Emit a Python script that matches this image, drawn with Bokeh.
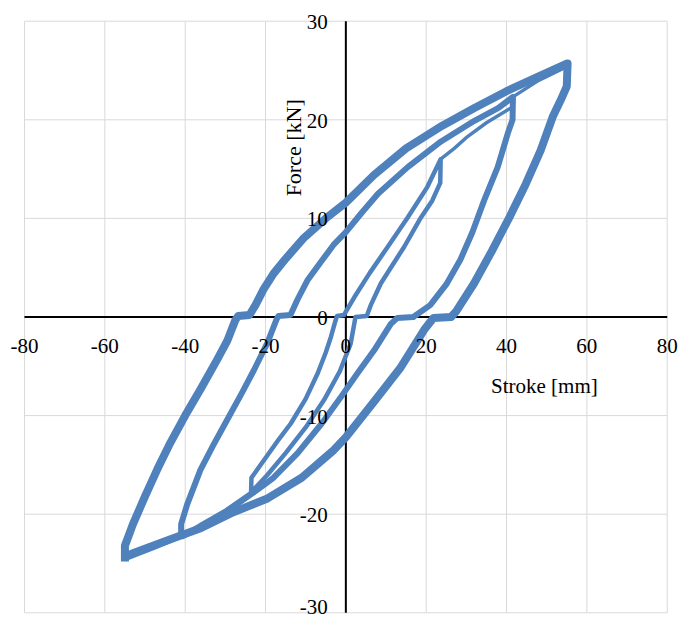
from math import pi
from bokeh.plotting import figure
from bokeh.models import Range1d, ColumnDataSource
from bokeh.core.properties import value
from bokeh.embed import file_html
from bokeh.resources import INLINE

# ---- axis ticks / labels ----
x_ticks = [-80, -60, -40, -20, 0, 20, 40, 60, 80]
y_ticks = [-30, -20, -10, 0, 10, 20, 30]
x_title = "Stroke [mm]"
y_title = "Force [kN]"

# ---- large cycle (±55 mm) ----
big_up_x = [-55.0, -55.0, -53.0, -50.0, -47.0, -44.0, -40.0, -36.0, -32.0, -29.5, -27.5, -26.8, -24.0,
            -22.5, -20.5, -18.0, -15.0, -10.5, -5.0, 0.0, 7.0, 15.0, 24.0, 32.0, 40.0, 48.0, 55.0]
big_up_y = [-24.8, -23.2, -21.0, -18.2, -15.5, -13.0, -10.0, -7.2, -4.3, -2.4, -0.3, 0.1, 0.2,
            1.2, 2.8, 4.4, 5.9, 8.0, 10.0, 11.6, 14.4, 17.1, 19.4, 21.2, 22.9, 24.4, 25.7]
big_dn_x = [55.2, 55.0, 53.5, 51.5, 48.5, 44.8, 40.7, 36.5, 31.9, 27.5, 26.2, 21.8, 19.5, 13.5,
            7.0, 0.0, -3.0, -11.0, -19.5, -28.0, -36.0, -44.0, -52.7, -55.0]
big_dn_y = [25.7, 23.4, 22.0, 20.3, 16.9, 13.5, 10.1, 6.8, 3.4, 0.6, 0.0, -0.1, -1.3, -5.2,
            -8.6, -12.2, -13.5, -16.3, -18.4, -19.8, -21.4, -22.6, -23.9, -24.3]

# ---- middle cycle (±41 mm) ----
mid_up_x = [-41.0, -41.0, -39.5, -36.2, -33.0, -29.5, -26.0, -22.9, -19.5, -17.3, -16.8, -13.8, -12.0,
            -9.6, -6.0, -2.9, 0.0, 4.0, 8.0, 15.4, 23.7, 32.0, 38.0, 41.5]
mid_up_y = [-22.3, -21.0, -19.0, -15.5, -13.0, -10.4, -7.8, -5.4, -2.6, -0.3, 0.1, 0.2, 1.8,
            3.7, 5.7, 7.4, 8.6, 10.6, 12.5, 15.2, 17.8, 19.9, 21.2, 22.3]
mid_dn_x = [41.6, 41.5, 40.3, 37.8, 34.4, 31.5, 28.5, 25.0, 21.0, 17.5, 16.8, 12.8, 11.2, 7.0,
            2.9, -1.2, -6.0, -12.0, -18.0, -23.0, -30.0, -36.0, -41.0]
mid_dn_y = [22.3, 20.0, 18.6, 15.2, 11.8, 8.6, 5.8, 3.3, 1.2, 0.2, 0.0, -0.1, -0.7, -3.4,
            -5.7, -8.1, -10.8, -13.8, -16.3, -17.8, -19.8, -21.2, -22.3]

# ---- small cycle (±23.5 mm) ----
sm_up_x = [-23.6, -23.5, -20.0, -16.5, -13.7, -10.0, -7.0, -5.0, -3.7, -2.6, -2.2, -0.5, 2.1,
           6.0, 10.4, 15.4, 20.3, 23.6]
sm_up_y = [-17.8, -16.3, -14.3, -12.3, -10.8, -8.3, -5.7, -3.6, -2.0, -0.4, 0.1, 0.2, 2.0,
           4.5, 7.1, 10.1, 13.2, 16.0]
sm_dn_x = [23.6, 23.5, 21.5, 18.7, 14.5, 11.5, 8.7, 6.2, 5.2, 2.4, 1.2, -1.5, -5.4, -10.0,
           -15.0, -19.5, -23.6]
sm_dn_y = [16.0, 13.6, 11.8, 10.1, 7.1, 5.2, 3.4, 1.2, 0.1, 0.0, -2.7, -5.5, -8.4, -11.2,
           -13.8, -16.0, -17.8]

# ---- transitions between amplitude steps ----
tr1_x = [23.6, 27.0, 30.3, 35.0, 41.5]
tr1_y = [16.0, 17.1, 18.3, 19.7, 21.3]
tr1b_x = [-23.6, -30.0, -36.0, -41.0]
tr1b_y = [-17.8, -19.6, -21.0, -22.3]
tr2_x = [41.5, 48.0, 55.0]
tr2_y = [22.3, 24.0, 25.4]
tr2b_x = [-41.0, -48.0, -55.0]
tr2b_y = [-22.3, -23.5, -24.6]

BLUE = "#4F81BD"
GRID = "#D9D9D9"
FONT = "Liberation Serif"

W, H = 678, 619
# plot-area placement inside the page (pixels)
PL, PR, PT, PB = 24.0, 666.7, 20.7, 612.3
sx = (PR - PL) / (x_ticks[-1] - x_ticks[0])
sy = (PB - PT) / (y_ticks[-1] - y_ticks[0])
x_range = Range1d(x_ticks[0] - PL / sx, x_ticks[-1] + (W - PR) / sx)
y_range = Range1d(y_ticks[0] - (H - PB) / sy, y_ticks[-1] + PT / sy)

p = figure(width=W, height=H, x_range=x_range, y_range=y_range, title=None,
           output_backend="svg", toolbar_location=None,
           x_axis_location=None, y_axis_location=None,
           min_border=0, min_border_left=0, min_border_right=0, min_border_top=0, min_border_bottom=0)
p.outline_line_color = None
p.background_fill_color = "white"
p.border_fill_color = "white"
p.grid.visible = False

# gridlines (plot area box included)
n_x, n_y = len(x_ticks), len(y_ticks)
p.segment(x0=x_ticks, y0=[y_ticks[0]] * n_x, x1=x_ticks, y1=[y_ticks[-1]] * n_x,
          line_color=GRID, line_width=1)
p.segment(x0=[x_ticks[0]] * n_y, y0=y_ticks, x1=[x_ticks[-1]] * n_y, y1=y_ticks,
          line_color=GRID, line_width=1)
# axes crossing at the origin
p.segment(x0=[x_ticks[0]], y0=[0], x1=[x_ticks[-1]], y1=[0], line_color="black", line_width=2)
p.segment(x0=[0], y0=[y_ticks[0]], x1=[0], y1=[y_ticks[-1]], line_color="black", line_width=2)

# data
for lx, ly in [(tr1_x, tr1_y), (tr1b_x, tr1b_y), (tr2_x, tr2_y), (tr2b_x, tr2b_y)]:
    p.line(lx, ly, line_color=BLUE, line_width=3.5, line_join="round")
p.line(sm_up_x + sm_dn_x, sm_up_y + sm_dn_y, line_color=BLUE, line_width=4.5, line_join="round")
p.line(mid_up_x + mid_dn_x, mid_up_y + mid_dn_y, line_color=BLUE, line_width=6, line_join="round")
p.line(big_up_x + big_dn_x, big_up_y + big_dn_y, line_color=BLUE, line_width=8, line_join="round")

# tick labels
label_floor = y_range.start + 12.5 / sy   # keep the lowest label inside the page
xs = ColumnDataSource(dict(x=x_ticks, y=[-29.0 / sy] * n_x, t=[str(v) for v in x_ticks]))
ys = ColumnDataSource(dict(x=[-18.0 / sx] * n_y,
                           y=[max(v - 1.0 / sy, label_floor) for v in y_ticks],
                           t=[str(v) for v in y_ticks]))
p.text(x="x", y="y", text="t", source=xs, text_font=value(FONT), text_font_size=value("21px"),
       text_align="center", text_baseline="middle", text_color="black")
p.text(x="x", y="y", text="t", source=ys, text_font=value(FONT), text_font_size=value("21px"),
       text_align="right", text_baseline="middle", text_color="black")

# axis titles
p.text(x=[(543.5 - 345) / sx], y=[-(386 - 316.7) / sy], text=[x_title], text_font=value(FONT),
       text_font_size=value("21px"), text_align="center", text_baseline="middle", text_color="black")
p.text(x=[-(345 - 292.5) / sx], y=[(316.7 - 147.5) / sy], text=[y_title], text_font=value(FONT),
       text_font_size=value("22px"), text_align="center", text_baseline="middle", angle=pi / 2,
       text_color="black")

open("out.html", "w").write(file_html(p, INLINE))
